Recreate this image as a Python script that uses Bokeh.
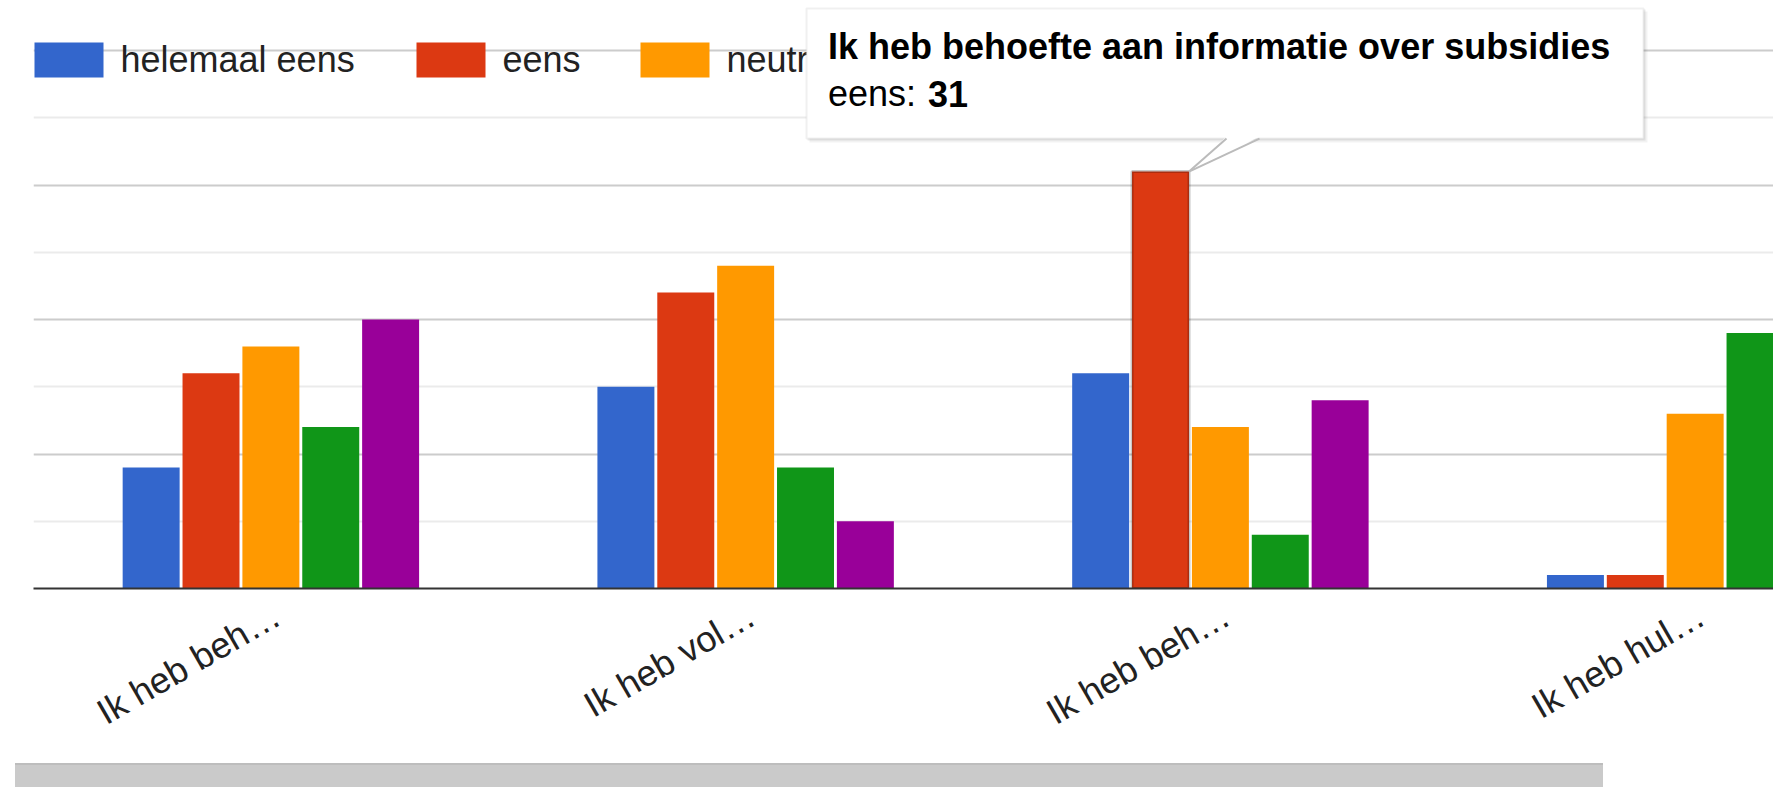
import math
from bokeh.plotting import figure
from bokeh.models import (ColumnDataSource, FixedTicker, CustomJSTickFormatter, Range1d,
                          BoxAnnotation, PolyAnnotation, Label, Arrow, Div)
from bokeh.core.properties import value
from bokeh.layouts import column
from bokeh.transform import dodge
from bokeh.embed import file_html
from bokeh.resources import INLINE

# ---------------- data ----------------
tick_labels = ["Ik heb beh\u2026", "Ik heb vol\u2026", "Ik heb beh\u2026", "Ik heb hul\u2026"]
hovered_category = "Ik heb behoefte aan informatie over subsidies"
series_names = ["helemaal eens", "eens", "neutraal", "oneens", "helemaal oneens"]
helemaal_eens = [9, 15, 16, 1]
eens = [16, 22, 31, 1]
neutraal = [18, 24, 12, 13]
oneens = [12, 9, 4, 19]
helemaal_oneens = [20, 5, 14, 36]   # last value lies outside the visible area
colors = ["#3366cc", "#dc3912", "#ff9900", "#109618", "#990099"]
series_values = [helemaal_eens, eens, neutraal, oneens, helemaal_oneens]

# ---------------- layout constants ----------------
W, H = 1773, 763
LEFT = 33
FRAME_BOTTOM = 588
X0, X1 = -0.5, 3.165
PY = 13.45
Y1 = FRAME_BOTTOM / PY
PX = (W - LEFT) / (X1 - X0)
STEP = 0.1261
BAR_W = 0.12
FONT = "Liberation Sans"
LEGEND_ITEM_PX = [34, 416, 640, 916, 1180]   # left edge of each legend swatch (screen px)
TXT_SHIFT = 15                               # baseline correction (px)


def xd(px):
    return X0 + (px - LEFT) / PX


def yd(py):
    return (FRAME_BOTTOM - py) / PY


src = ColumnDataSource(dict(idx=list(range(len(tick_labels))),
                            **{f"s{j}": v for j, v in enumerate(series_values)}))

p = figure(width=W, height=H, x_range=Range1d(X0, X1), y_range=Range1d(0, Y1),
           output_backend="svg", toolbar_location=None,
           min_border_left=LEFT, min_border_right=0, min_border_top=0,
           min_border_bottom=H - FRAME_BOTTOM)
p.outline_line_color = None
p.background_fill_color = "white"
p.border_fill_color = "white"

p.ygrid.ticker = FixedTicker(ticks=[0, 10, 20, 30, 40], minor_ticks=[5, 15, 25, 35])
p.ygrid.grid_line_color = "#cccccc"
p.ygrid.grid_line_width = 2
p.ygrid.minor_grid_line_color = "#ebebeb"
p.ygrid.minor_grid_line_width = 2
p.xgrid.visible = False
p.yaxis.visible = False

for j, col in enumerate(colors):
    p.vbar(x=dodge("idx", (j - 2) * STEP, range=p.x_range), top=f"s{j}", width=BAR_W,
           bottom=0, fill_color=col, line_color=None, source=src)

# x axis
p.xaxis.ticker = FixedTicker(ticks=[i + 6 / PX for i in range(len(tick_labels))])
p.xaxis.formatter = CustomJSTickFormatter(args=dict(labels=tick_labels),
                                          code="return labels[Math.round(tick)]")
p.xaxis.axis_line_color = "#333333"
p.xaxis.axis_line_width = 2
p.xaxis.major_tick_line_color = None
p.xaxis.minor_tick_line_color = None
p.xaxis.major_tick_out = 0
p.xaxis.major_label_standoff = 24
p.xaxis.major_label_orientation = math.pi / 6
p.xaxis.major_label_text_font = FONT
p.xaxis.major_label_text_font_size = "36px"
p.xaxis.major_label_text_color = "#222222"

# ---------------- legend (drawn as glyphs so the tooltip can cover it) ----------------
leg = ColumnDataSource(dict(
    sx=[xd(px + 34.5) for px in LEGEND_ITEM_PX],
    sy=[yd(59.5)] * len(series_names),
    tx=[xd(px + 86) for px in LEGEND_ITEM_PX],
    ty=[yd(74 - TXT_SHIFT)] * len(series_names),
    name=series_names, color=colors))
p.rect(x="sx", y="sy", width=69, height=35, width_units="screen", height_units="screen",
       fill_color="color", line_color=None, source=leg)
p.text(x="tx", y="ty", text="name", text_font=value(FONT), text_font_size="36px",
       text_color="#222222", text_baseline="alphabetic", source=leg)

# ---------------- tooltip on hovered bar ----------------
hs, hc = 1, 2
tip_x = hc + (hs - 2) * STEP + BAR_W / 2
tip_y = series_values[hs][hc]
bar_x = hc + (hs - 2) * STEP
p.vbar(x=[bar_x], top=[tip_y], width=BAR_W, fill_color=None,
       line_color="#000000", line_alpha=0.22, line_width=3)


def dx(px):
    return px / PX


def dy(py):
    return py / PY


bl, br = tip_x + dx(-382.5), tip_x + dx(454.5)
bt, bb = tip_y + dy(163), tip_y + dy(33)
for off, a in [(4, 0.05), (2, 0.08)]:
    p.add_layout(BoxAnnotation(left=bl + dx(off - 1), right=br + dx(off), top=bt - dy(off - 1),
                               bottom=bb - dy(off), fill_color="black", fill_alpha=a,
                               line_color=None, level="overlay"))
p.add_layout(BoxAnnotation(left=bl, right=br, top=bt, bottom=bb, fill_color="white",
                           fill_alpha=1, line_color="#cccccc", line_width=2, level="overlay"))
base_l, base_r = tip_x + dx(37.5), tip_x + dx(70.5)
p.add_layout(PolyAnnotation(xs=[base_l, tip_x, base_r], ys=[bb + dy(2), tip_y, bb + dy(2)],
                            fill_color="white", fill_alpha=1, line_color=None, level="overlay"))
for bx in (base_l, base_r):
    p.add_layout(Arrow(x_start=bx, y_start=bb, x_end=tip_x, y_end=tip_y, end=None,
                       line_color="#bbbbbb", line_width=2, level="overlay"))

p.add_layout(Label(x=bl + dx(21.5), y=tip_y + dy(110 + TXT_SHIFT), text=hovered_category,
                   text_font=FONT, text_font_size="36px", text_font_style="bold",
                   text_color="#000000", text_baseline="alphabetic", level="overlay"))
p.add_layout(Label(x=bl + dx(21.5), y=tip_y + dy(63 + TXT_SHIFT), text=series_names[hs] + ": ",
                   text_font=FONT, text_font_size="36px", text_color="#000000",
                   text_baseline="alphabetic", level="overlay"))
p.add_layout(Label(x=bl + dx(121.5), y=tip_y + dy(63 + TXT_SHIFT), text=str(tip_y),
                   text_font=FONT, text_font_size="36px", text_font_style="bold",
                   text_color="#000000", text_baseline="alphabetic", level="overlay"))

scroll = Div(text="", width=1588, height=24, margin=(0, 0, 0, 15),
             styles={"background-color": "#cacaca", "box-shadow": "inset 0 2px 0 #bdbdbd"})

layout = column(p, scroll, spacing=0)
open("out.html", "w").write(file_html(layout, INLINE))
